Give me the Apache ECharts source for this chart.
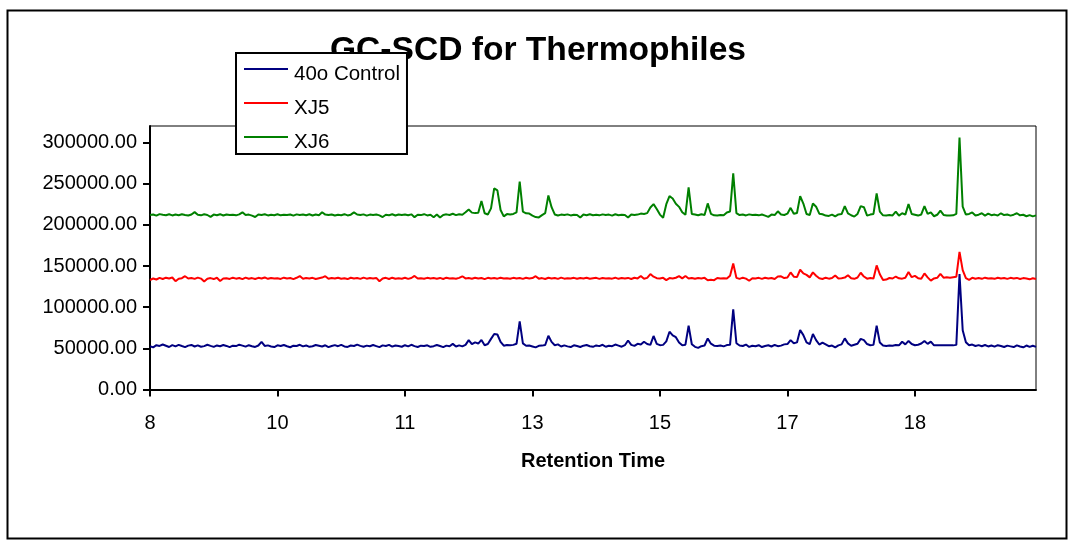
<!DOCTYPE html>
<html>
<head>
<meta charset="utf-8">
<script src="https://cdn.jsdelivr.net/npm/echarts@6/dist/echarts.min.js"></script>
<style>
  html, body { margin: 0; padding: 0; background: #fff; }
  #chart { width: 1071px; height: 540px; }
</style>
</head>
<body>
<div id="chart"></div>
<script>
// Sulfur chemiluminescence detector traces, one sample every few seconds
const seriesNames = ['40o Control', 'XJ5', 'XJ6'];

// Retention-time labels shown on every 40th sample
const tickLabels = ['8', '10', '11', '13', '15', '17', '18'];
const TICK_STEP = 40;

const control = [
  52500, 51200, 53800, 52900, 54600, 53100, 51600, 53900, 52400, 54200, 52800, 51500, 53300, 54100, 52200, 53600, 51900, 52700, 54300, 53000,
  51800, 53500, 52600, 54000, 52900, 51400, 53200, 52700, 54400, 53300, 52100, 53800, 52600, 51700, 53400, 57800, 52900, 53600, 52300, 51600,
  53700, 52800, 54100, 52500, 51300, 53200, 52900, 54300, 52400, 53500, 51800, 52600, 54000, 53100, 52200, 53700, 51500, 52800, 53900, 52600,
  54200, 52300, 51700, 53400, 52800, 54500, 53000, 51900, 53300, 52500, 54000, 52700, 51400, 53600, 52900, 54200, 52100, 53500, 52800, 51900,
  53800, 52400, 54300, 52700, 51600, 53200, 52900, 53700, 51800, 52600, 54100, 52800, 51500, 53300, 52600, 55400, 52200, 53600, 52400, 54200,
  60000, 55000, 57200, 55800, 60200, 53800, 55200, 61500, 67500, 66800, 57800, 53200, 54000, 53800, 54200, 55500, 82800, 56000, 53200, 53400,
  52300, 51200, 53000, 53300, 54000, 65200, 57800, 53800, 54800, 52200, 53600, 52400, 51500, 53700, 52800, 51600, 53200, 54000, 52600, 51800,
  53500, 52700, 54300, 51900, 53100, 52600, 54600, 53300, 52000, 53800, 59500, 54200, 53000, 55500, 54600, 58000, 55200, 54200, 65000, 55400,
  53800, 54200, 58500, 70200, 65800, 63500, 57000, 53600, 54400, 77500, 55000, 51800, 50500, 52600, 53400, 62000, 55600, 53200, 52800, 53500,
  52400, 53900, 54300, 97300, 56200, 53400, 52800, 54600, 51700, 53200, 52500, 53800, 51600, 52900, 53700, 52200, 54100, 52600, 53300, 54800,
  55200, 60000, 56200, 57200, 72200, 66000, 57200, 55000, 67400, 60000, 54600, 57000, 54800, 52600, 53400, 51200, 53600, 54800, 62100, 56000,
  53200, 54400, 55600, 61500, 60000, 55200, 53800, 54200, 77400, 57000, 53500, 52900, 53400, 53100, 54000, 53600, 58000, 54800, 59000, 55200,
  53800, 54400, 55800, 59000, 55400, 58200, 53600, 53600, 53600, 53600, 53600, 53600, 53600, 54200, 140200, 72000, 57500, 53800, 54600, 52800,
  53900, 52600, 54000, 52300, 53500, 52100, 53800, 52900, 51600, 53300, 52400, 51500, 53600, 52200, 51300, 53400, 51700, 53200, 51800
];

const xj5 = [
  133000, 134800, 133600, 135600, 134200, 135800, 134900, 136000, 131500, 134600, 135200, 137600, 134800, 135400, 134300, 135900, 134700, 131200, 134500, 135300,
  134100, 135700, 131800, 134900, 135200, 134300, 135800, 134600, 135400, 134000, 135900, 134500, 135300, 134200, 135600, 134800, 136100, 134400, 135500, 134700,
  135200, 134300, 135800, 134900, 135400, 134100, 135700, 137800, 134600, 135300, 134800, 135600, 134200, 135100, 135900, 137600, 134400, 135300, 134700, 135800,
  134500, 135200, 134100, 135700, 134800, 135400, 134300, 135900, 134600, 135300, 134900, 135500, 131400, 134700, 135600, 134200, 135800, 134500, 135100, 134600,
  135700, 134300, 135400, 137900, 134800, 135200, 134400, 135600, 134900, 135300, 134600, 135500, 134200, 135800, 134700, 135100, 134500, 135600, 137500, 134900,
  135300, 134500, 135700, 134800, 135400, 134100, 135600, 134900, 135300, 134600, 135800, 134700, 135200, 134400, 135600, 134800, 135500, 134300, 135700, 134900,
  135400, 137600, 134600, 135300, 134200, 135700, 134800, 135500, 134300, 135900, 134600, 135200, 134800, 135600, 134400, 135300, 134700, 135800, 134500, 135100,
  135600, 134300, 135500, 134800, 135200, 134600, 135800, 134400, 135300, 134700, 135500, 134200, 135700, 134900, 137800, 134500, 135600, 140200, 137000, 135200,
  134700, 135600, 132900, 135300, 134800, 135700, 137600, 135000, 137900, 134800, 135500, 134600, 135300, 134900, 135600, 132600, 133200, 132800, 135400, 134800,
  135200, 134700, 138200, 153100, 135600, 134300, 135800, 134600, 132100, 135200, 134800, 135600, 134300, 135700, 134900, 135400, 134200, 137200, 137500, 135300,
  136000, 142200, 137000, 136500, 145400, 141000, 139200, 136200, 142200, 138200, 135000, 134200, 135800, 134600, 135300, 138500, 134700, 135200, 135900, 138800,
  135000, 134400, 136000, 141800, 137200, 134600, 135300, 134800, 150700, 140000, 133000, 133500, 135400, 134800, 137200, 135000, 134600, 135800, 142600, 136400,
  138000, 135200, 134500, 141000, 136200, 132200, 134900, 135600, 140400, 135800, 136200, 135800, 136400, 137000, 167200, 145000, 135200, 133200, 135600, 134600,
  135300, 134400, 135800, 134700, 135200, 134400, 135700, 134900, 135400, 134300, 135600, 134800, 135500, 134200, 135300, 134900, 133800, 135100, 134300
];

const xj6 = [
  211800, 212600, 211200, 213000, 212100, 211600, 212800, 211400, 212500, 211700, 212900, 212000, 211300, 212600, 215400, 212200, 211500, 212800, 211900, 209600,
  212400, 211700, 212900, 211300, 212600, 211900, 212300, 211500, 212700, 215200, 211800, 212400, 211100, 209500, 212600, 211900, 212800, 211400, 212300, 211700,
  212900, 211500, 212200, 211800, 212600, 211200, 212700, 211900, 212400, 211600, 212800, 211300, 212500, 211700, 215300, 212400, 211800, 212600, 211300, 212200,
  211700, 212900, 211400, 212300, 215100, 212500, 211800, 212700, 211200, 212400, 211900, 212600, 211500, 209400, 212300, 211700, 212800, 211300, 212500, 211900,
  212400, 211600, 212700, 209300, 212200, 211800, 212900, 211400, 212300, 209200, 212600, 208800, 212000, 212700, 211900, 213400, 211800, 212900, 212300, 215200,
  218600, 214800, 214200, 214600, 228800, 214000, 212600, 220000, 244200, 241800, 218000, 210200, 213000, 212400, 213200, 215000, 252600, 216000, 214000, 213600,
  211200, 209400, 209000, 211800, 214200, 235700, 221400, 212600, 211300, 212400, 211800, 212700, 211400, 212300, 211900, 208800, 212500, 211700, 212800, 211600,
  212300, 211500, 212700, 211900, 212400, 211200, 212800, 211600, 212300, 211900, 208900, 212600, 211800, 212400, 213600, 213200, 214200, 221000, 225100, 219200,
  212400, 208600, 225000, 234800, 232000, 225500, 221800, 215200, 212200, 245400, 213200, 212400, 211600, 212800, 211900, 226000, 213400, 211500, 211200, 212000,
  211600, 215000, 216200, 262400, 214200, 211800, 212500, 211400, 212700, 211900, 212300, 211500, 212600, 211200, 209700, 212400, 211800, 216400, 212500, 211900,
  213500, 220600, 213400, 214400, 234800, 225800, 213200, 212000, 226000, 222000, 213500, 212800, 211200, 210800, 212400, 210200, 212600, 213000, 222700, 214000,
  211600, 210000, 213200, 222700, 221400, 211200, 212400, 213200, 238100, 216000, 211500, 211200, 211800, 211400, 216000, 211200, 214000, 212400, 225100, 213200,
  212200, 211200, 212600, 222700, 213200, 215000, 210400, 212200, 217200, 212000, 211400, 211300, 211500, 213200, 306100, 222000, 212400, 213200, 215000, 211400,
  212300, 214000, 211200, 213600, 211700, 212400, 211300, 214000, 211800, 212500, 211200, 212300, 214000, 211500, 212200, 210400, 211800, 210200, 211500
];

const seriesColors = ['#000080', '#ff0000', '#008000'];
const seriesData = [control, xj5, xj6];

// One category per sample
const sampleIndex = control.map((_, i) => i);

const FONT = '"Liberation Sans", Arial, sans-serif';
const onTick = (index) => index % TICK_STEP === 0;

const chart = echarts.init(document.getElementById('chart'), null, { renderer: 'canvas' });

chart.setOption({
  animation: false,
  backgroundColor: '#ffffff',
  title: {
    text: 'GC-SCD for Thermophiles',
    left: 325,
    top: 29,
    textStyle: { fontFamily: FONT, fontSize: 33.6, fontWeight: 'bold', color: '#000' }
  },
  legend: {
    z: 10,
    orient: 'vertical',
    left: 236,
    top: 53,
    padding: [0, 7, 1, 8],
    itemGap: 2,
    itemWidth: 44,
    itemHeight: 2,
    icon: 'rect',
    backgroundColor: '#ffffff',
    borderColor: '#000',
    borderWidth: 2,
    borderRadius: 0,
    data: seriesNames,
    // label sits a little below its sample line
    formatter: (name) => '{t|' + name + '}',
    textStyle: {
      fontFamily: FONT,
      fontSize: 20.5,
      color: '#000',
      rich: {
        t: {
          fontFamily: FONT,
          fontSize: 20.5,
          color: '#000',
          lineHeight: 20,
          padding: [11, 0, 0, 1]
        }
      }
    }
  },
  grid: {
    left: 150,
    top: 126,
    right: 35,
    bottom: 150.5,
    show: true,
    borderColor: '#000',
    borderWidth: 1,
    containLabel: false
  },
  xAxis: {
    type: 'category',
    data: sampleIndex,
    boundaryGap: false,
    name: 'Retention Time',
    nameLocation: 'middle',
    nameGap: 62,
    nameTextStyle: { fontFamily: FONT, fontSize: 20, fontWeight: 'bold', color: '#000' },
    axisLine: { lineStyle: { color: '#000', width: 2 } },
    axisTick: { show: true, interval: onTick, length: 7, inside: false, lineStyle: { color: '#000', width: 2 } },
    axisLabel: {
      interval: onTick,
      margin: 24,
      fontFamily: FONT,
      fontSize: 20,
      color: '#000',
      formatter: (value, index) => tickLabels[index / TICK_STEP]
    },
    splitLine: { show: false }
  },
  yAxis: {
    type: 'value',
    min: 0,
    max: 320000,
    interval: 50000,
    axisLine: { show: true, lineStyle: { color: '#000', width: 2 } },
    axisTick: { show: true, length: 7, inside: false, lineStyle: { color: '#000', width: 2 } },
    axisLabel: {
      margin: 13,
      fontFamily: FONT,
      fontSize: 20,
      color: '#000',
      showMaxLabel: false,
      formatter: (v) => v.toFixed(2)
    },
    splitLine: { show: false }
  },
  series: seriesNames.map((name, k) => ({
    name: name,
    type: 'line',
    data: seriesData[k],
    symbol: 'none',
    showSymbol: false,
    color: seriesColors[k],
    lineStyle: { color: seriesColors[k], width: 2 },
    z: 2 + k
  })),
  graphic: [{
    type: 'rect',
    silent: true,
    z: 100,
    shape: { x: 7.5, y: 10.5, width: 1059, height: 528 },
    style: { fill: 'none', stroke: '#000', lineWidth: 2 }
  }]
});
</script>
</body>
</html>
